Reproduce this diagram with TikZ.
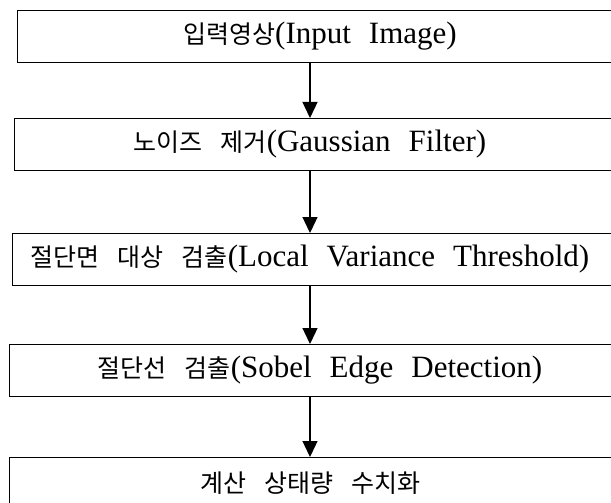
\documentclass[tikz,border=0pt]{standalone}
\usepackage{fontspec}
\setmainfont{Liberation Serif}
\newfontfamily\kr{Noto Sans CJK KR}
\usetikzlibrary{arrows.meta}
\newcommand\kt[1]{{\kr\fontsize{25}{30}\selectfont #1}}
\newcommand\gp{\hspace{18pt}}
\begin{document}
\begin{tikzpicture}[x=1pt,y=-1pt,
  box/.style={draw=black, line width=1.3pt, rectangle, anchor=north west, inner sep=0pt, minimum height=52pt, minimum width=#1},
  lbl/.style={inner sep=0pt, font=\fontsize{31}{36}\selectfont},
  arr/.style={draw=black, line width=1.3pt, -{Triangle[width=15pt,length=16pt]}}]
\useasboundingbox (0,0) rectangle (611,503);
\clip (0,0) rectangle (611,503);
\fill[white] (0,0) rectangle (611,503);
\node[box=620pt] (b1) at (17,10) {};
\node[box=620pt] (b2) at (14,118) {};
\node[box=620pt] (b3) at (12,233) {};
\node[box=620pt] (b4) at (9,344) {};
\node[box=620pt] (b5) at (9,457) {};
\node[lbl] (t1) at (320,36) {\kt{입력영상}(Input\gp Image)};
\node[lbl] (t2) at (310,144) {\kt{노이즈\gp 제거}(Gaussian\gp Filter)};
\node[lbl] (t3) at (310,259) {\kt{절단면\gp 대상\gp 검출}(Local\gp Variance\gp Threshold)};
\node[lbl] (t4) at (320,370) {\kt{절단선\gp 검출}(Sobel\gp Edge\gp Detection)};
\node[lbl] (t5) at (310,483) {\kt{계산\gp 상태량\gp 수치화}};
\coordinate (ax) at (310,0);
\draw[arr] (b1.south -| ax) -- (b2.north -| ax);
\draw[arr] (b2.south -| ax) -- (b3.north -| ax);
\draw[arr] (b3.south -| ax) -- (b4.north -| ax);
\draw[arr] (b4.south -| ax) -- (b5.north -| ax);
\end{tikzpicture}
\end{document}
